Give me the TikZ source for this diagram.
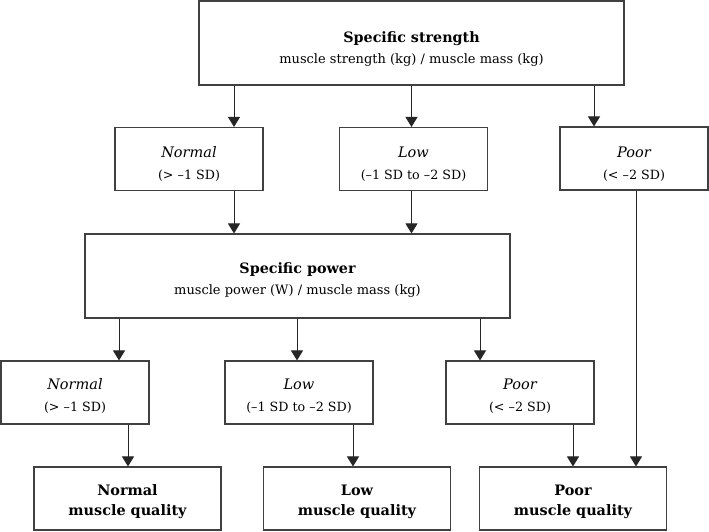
\documentclass[tikz,border=0pt]{standalone}
\usepackage{fontspec}
\setmainfont{DejaVu Serif}
\usetikzlibrary{arrows.meta}
\newcommand{\upstrut}[1]{\rule{0pt}{#1}}
\begin{document}
\begin{tikzpicture}[x=1pt,y=-1pt,
  box/.style={draw=black!75, line width=1.1pt, fill=white, align=center, inner sep=0pt},
  bigbox/.style={box, minimum width=425pt, minimum height=84pt, font=\fontsize{13}{21}\selectfont},
  midbox/.style={box, minimum width=148pt, minimum height=63pt, font=\fontsize{12.7}{22}\selectfont},
  endbox/.style={box, minimum width=187pt, minimum height=63pt, font=\fontsize{14.4}{20}\selectfont\bfseries},
  arr/.style={draw=black!85, line width=1pt, -{Triangle[width=12pt,length=10pt]}}]
\useasboundingbox (0,0) rectangle (709,531);
\fill[white] (0,0) rectangle (709,531);

% top level
\node[bigbox] (ss) at (411.5,43) {\upstrut{22pt}{\fontsize{14.3}{21}\selectfont\bfseries Specific strength}\\muscle strength (kg) / muscle mass (kg)};

% second row
\node[midbox] (n1) at (189,159) {\upstrut{21pt}{\fontsize{14.5}{22}\selectfont\itshape Normal}\\(> –1 SD)};
\node[midbox] (l1) at (413.5,159) {\upstrut{21pt}{\fontsize{14.5}{22}\selectfont\itshape Low}\\(–1 SD to –2 SD)};
\node[midbox] (p1) at (634,158.5) {\upstrut{21pt}{\fontsize{14.5}{22}\selectfont\itshape Poor}\\(< –2 SD)};

% specific power
\node[bigbox] (sp) at (297.5,276) {\upstrut{18pt}{\fontsize{14.3}{21}\selectfont\bfseries Specific power}\\muscle power (W) / muscle mass (kg)};

% fourth row
\node[midbox] (n2) at (75,392.5) {\upstrut{17pt}{\fontsize{14.5}{22}\selectfont\itshape Normal}\\(> –1 SD)};
\node[midbox] (l2) at (299,392.5) {\upstrut{17pt}{\fontsize{14.5}{22}\selectfont\itshape Low}\\(–1 SD to –2 SD)};
\node[midbox] (p2) at (520,392.5) {\upstrut{17pt}{\fontsize{14.5}{22}\selectfont\itshape Poor}\\(< –2 SD)};

% outcomes
\node[endbox] (nq) at (127.5,498.5) {\upstrut{18pt}Normal\\muscle quality};
\node[endbox] (lq) at (357,498.5) {\upstrut{18pt}Low\\muscle quality};
\node[endbox] (pq) at (573,498.5) {\upstrut{18pt}Poor\\muscle quality};

% x positions of connectors
\coordinate (xa) at (234,0);
\coordinate (xb) at (411.5,0);
\coordinate (xc) at (594,0);
\coordinate (xd) at (119,0);
\coordinate (xe) at (297,0);
\coordinate (xf) at (480,0);
\coordinate (xg) at (128,0);
\coordinate (xh) at (353,0);
\coordinate (xi) at (573,0);
\coordinate (xj) at (636,0);

\draw[arr] (ss.south -| xa) -- (n1.north -| xa);
\draw[arr] (ss.south -| xb) -- (l1.north -| xb);
\draw[arr] (ss.south -| xc) -- (p1.north -| xc);
\draw[arr] (n1.south -| xa) -- (sp.north -| xa);
\draw[arr] (l1.south -| xb) -- (sp.north -| xb);
\draw[arr] (sp.south -| xd) -- (n2.north -| xd);
\draw[arr] (sp.south -| xe) -- (l2.north -| xe);
\draw[arr] (sp.south -| xf) -- (p2.north -| xf);
\draw[arr] (n2.south -| xg) -- (nq.north -| xg);
\draw[arr] (l2.south -| xh) -- (lq.north -| xh);
\draw[arr] (p2.south -| xi) -- (pq.north -| xi);
\draw[arr] (p1.south -| xj) -- (pq.north -| xj);
\end{tikzpicture}
\end{document}
